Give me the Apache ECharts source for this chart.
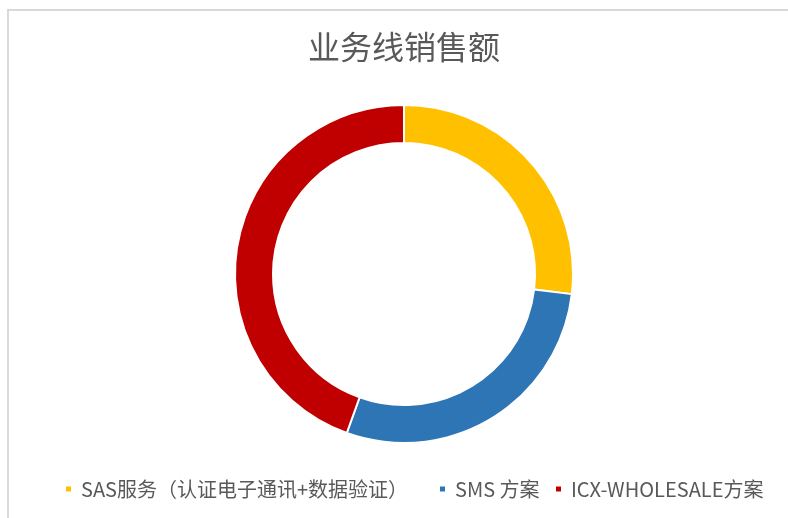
<!DOCTYPE html>
<html>
<head>
<meta charset="utf-8">
<script src="https://cdn.jsdelivr.net/npm/echarts@6/dist/echarts.min.js"></script>
<style>
  html, body { margin: 0; padding: 0; background: #fff; }
  #main { width: 788px; height: 518px; }
</style>
</head>
<body>
<div id="main"></div>
<script>
// 数据源
var names = ['SAS服务（认证电子通讯+数据验证）', 'SMS 方案', 'ICX-WHOLESALE方案']
var values = [26.9, 28.6, 44.5]
var colors = ['#FFC000', '#2E75B6', '#C00000']
// 图例每项的横向位置
var legendLeft = [64, 438, 554]

var mychart = echarts.init(document.getElementById('main'))

var legends = names.map(function (n, i) {
    return {
        show: true,
        left: legendLeft[i],
        top: 479,
        padding: 0,
        itemWidth: 7,
        itemHeight: 7,
        icon: 'rect',
        textStyle: {
            color: '#595959',
            fontSize: 20,
            fontFamily: 'Noto Sans CJK SC',
            padding: [0, 0, 0, 4]
        },
        data: [n]
    }
})

var option = {
    animation: false,
    color: colors,
    graphic: [{
        type: 'rect',
        shape: { x: 8, y: 10, width: 800, height: 530 },
        style: { fill: 'none', stroke: '#d9d9d9', lineWidth: 2 },
        silent: true
    }],
    title: {
        text: '业务线销售额',
        left: 308,
        top: 31,
        padding: 0,
        textStyle: {
            color: '#595959',
            fontSize: 32,
            fontWeight: 'normal',
            fontFamily: 'Noto Sans CJK SC'
        }
    },
    legend: legends,
    series: [{
        type: 'pie',
        center: [404, 274],
        radius: [131, 169],
        startAngle: 90,
        clockwise: true,
        label: { show: false },
        labelLine: { show: false },
        itemStyle: { borderColor: '#fff', borderWidth: 2 },
        emphasis: { disabled: true },
        data: names.map(function (n, i) { return { name: n, value: values[i] } })
    }]
}

mychart.setOption(option)
</script>
</body>
</html>
